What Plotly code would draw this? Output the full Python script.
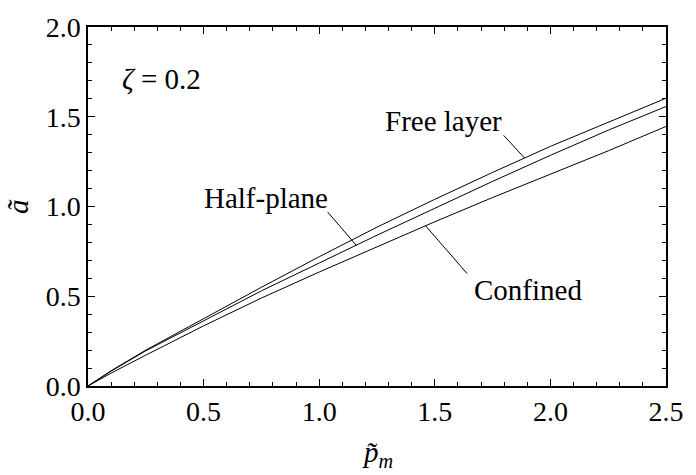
import numpy as np
import plotly.graph_objects as go

# Normalised load p_m and contact half-width a for three substrate cases (zeta = 0.2)
p_m = [0.0, 0.1, 0.25, 0.5, 0.75, 1.0, 1.25, 1.5, 1.75, 2.0, 2.25, 2.5]
a_free = [0.0, 0.085, 0.200, 0.375, 0.550, 0.720, 0.885, 1.040, 1.190, 1.335, 1.470, 1.603]
a_half = [0.0, 0.083, 0.196, 0.365, 0.530, 0.685, 0.840, 0.990, 1.140, 1.285, 1.425, 1.557]
a_conf = [0.0, 0.072, 0.172, 0.335, 0.490, 0.635, 0.775, 0.915, 1.050, 1.180, 1.310, 1.446]

FONT = "'Liberation Serif', 'Times New Roman', Times, serif"
SIZE = 29

fig = go.Figure()
for ys in (a_free, a_half, a_conf):
    fig.add_trace(go.Scatter(x=p_m, y=ys, mode="lines",
                             line=dict(color="black", width=1), showlegend=False))

# Labels with leader lines ending on their curves
labels = [
    ("Free layer", 1.537, 1.479, 1.798, 1.396, 1.888, a_free),
    ("Half-plane", 0.771, 1.047, 1.036, 0.970, 1.160, a_half),
    ("Confined", 1.905, 0.537, 1.640, 0.626, 1.460, a_conf),
]
for text, tx, ty, lx0, ly0, lx1, ys in labels:
    fig.add_annotation(x=tx, y=ty, text=text, showarrow=False, xanchor="center", yanchor="middle",
                       font=dict(family=FONT, size=SIZE, color="black"))
    fig.add_shape(type="line", x0=lx0, y0=ly0, x1=lx1, y1=float(np.interp(lx1, p_m, ys)),
                  line=dict(color="black", width=1))

fig.add_annotation(x=0.317, y=1.712, text="<i>ζ</i> = 0.2", showarrow=False,
                   xanchor="center", yanchor="middle",
                   font=dict(family=FONT, size=SIZE, color="black"))

# Axis titles
fig.add_annotation(xref="paper", yref="paper", x=0.5, y=-0.19, text="<i>p̃</i><sub><i>m</i></sub>",
                   showarrow=False, xanchor="center", yanchor="middle",
                   font=dict(family=FONT, size=SIZE, color="black"))
fig.add_annotation(xref="paper", yref="paper", x=-0.122, y=0.5, text="<i>ã</i>", textangle=-90,
                   showarrow=False, xanchor="center", yanchor="middle",
                   font=dict(family=FONT, size=SIZE, color="black"))

axis_common = dict(showgrid=False, zeroline=False, showline=True, linecolor="black", linewidth=1.5,
                   mirror="allticks", ticks="inside", ticklen=7, tickwidth=1, tickcolor="black",
                   tickfont=dict(family=FONT, size=SIZE - 1, color="black"))
fig.update_xaxes(range=[0, 2.5], dtick=0.5, tickformat=".1f",
                 minor=dict(dtick=0.1, ticks="inside", ticklen=4, tickcolor="black", showgrid=False),
                 **axis_common)
fig.update_yaxes(range=[0, 2.0], dtick=0.5, tickformat=".1f",
                 minor=dict(dtick=0.1, ticks="inside", ticklen=4, tickcolor="black", showgrid=False),
                 **axis_common)

fig.update_layout(width=696, height=475, margin=dict(l=88, r=24, t=25, b=89),
                  plot_bgcolor="white", paper_bgcolor="white")
fig.write_html("out.html")
